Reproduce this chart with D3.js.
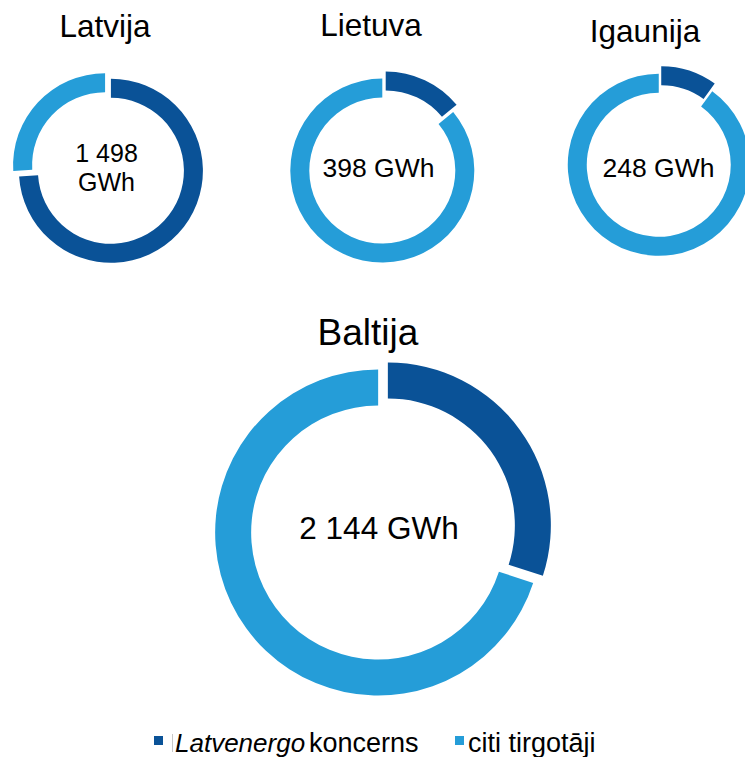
<!DOCTYPE html>
<html>
<head>
<meta charset="utf-8">
<script src="https://cdn.jsdelivr.net/npm/d3@7/dist/d3.min.js"></script>
<style>
  body { margin: 0; background: #fff; }
  svg text { font-family: "Liberation Sans", Arial, sans-serif; fill: #000; }
</style>
</head>
<body>
<div id="chart"></div>
<script>
// share of sales, %
const regions = ['Latvija', 'Lietuva', 'Igaunija', 'Baltija'];
const totals = ['1 498 GWh', '398 GWh', '248 GWh', '2 144 GWh'];
const latvenergo = [74, 14, 10, 30];
const citi = [26, 86, 90, 70];
const seriesNames = ['Latvenergo', 'koncerns', 'citi tirgotāji'];

const colors = ['#0a5297', '#259dd8'];

const width = 745, height = 757;
const svg = d3.select('#chart').append('svg')
    .attr('width', width)
    .attr('height', height);

// layout per donut (label offsets are relative to the donut centre)
const layout = [
    {cx: 108, cy: 168, r: 92, w: 19, explode: 4, titleX: 105, titleY: 37, titleSize: 31.5, labelSize: 25, lx: -1.5, ly: -6},
    {cx: 384, cy: 167, r: 92, w: 19, explode: 4, titleX: 371, titleY: 36, titleSize: 31.5, labelSize: 26.5, lx: -5.5, ly: 10},
    {cx: 660, cy: 161, r: 91, w: 19, explode: 4, titleX: 645, titleY: 42, titleSize: 31.5, labelSize: 26.5, lx: -1.5, ly: 16},
    {cx: 383, cy: 529, r: 163, w: 36, explode: 6, titleX: 368, titleY: 345, titleSize: 37, labelSize: 31.5, lx: -4, ly: 10}
];

const pie = d3.pie().sort(null).value(d => d);

regions.forEach((name, i) => {
    const L = layout[i];
    const g = svg.append('g')
        .attr('transform', `translate(${L.cx}, ${L.cy})`);

    const arc = d3.arc()
        .innerRadius(L.r - L.w)
        .outerRadius(L.r);

    const arcs = pie([latvenergo[i], citi[i]]);

    // exploded slices: each pushed out along its mid angle
    g.selectAll('path')
        .data(arcs)
        .enter()
        .append('path')
        .attr('d', arc)
        .attr('fill', (d, j) => colors[j])
        .attr('transform', d => {
            const mid = (d.startAngle + d.endAngle) / 2;
            const dx = Math.sin(mid) * L.explode;
            const dy = -Math.cos(mid) * L.explode;
            return `translate(${dx}, ${dy})`;
        });

    svg.append('text')
        .attr('x', L.titleX)
        .attr('y', L.titleY)
        .attr('text-anchor', 'middle')
        .style('font-size', L.titleSize + 'px')
        .text(name);

    // centre label, Latvija wraps onto two lines
    if (i === 0) {
        const num = totals[i].replace(' GWh', '');
        g.append('text')
            .attr('x', L.lx)
            .attr('y', L.ly)
            .attr('text-anchor', 'middle')
            .style('font-size', L.labelSize + 'px')
            .text(num);
        g.append('text')
            .attr('x', L.lx)
            .attr('y', L.ly + 28.5)
            .attr('text-anchor', 'middle')
            .style('font-size', L.labelSize + 'px')
            .text('GWh');
    } else {
        g.append('text')
            .attr('x', L.lx)
            .attr('y', L.ly)
            .attr('text-anchor', 'middle')
            .style('font-size', L.labelSize + 'px')
            .text(totals[i]);
    }
});

// legend
const legend = svg.append('g').attr('transform', 'translate(0, 752)');

legend.append('rect')
    .attr('x', 154).attr('y', -16)
    .attr('width', 9).attr('height', 9)
    .attr('fill', colors[0]);
legend.append('line')
    .attr('x1', 172.5).attr('x2', 172.5)
    .attr('y1', -18).attr('y2', 0)
    .attr('stroke', '#c8c8c8').attr('stroke-width', 1);
legend.append('text')
    .attr('x', 175).attr('y', 0)
    .style('font-size', '26px')
    .style('font-style', 'italic')
    .text(seriesNames[0]);
legend.append('text')
    .attr('x', 309).attr('y', 0)
    .style('font-size', '27px')
    .text(seriesNames[1]);

legend.append('rect')
    .attr('x', 455).attr('y', -16)
    .attr('width', 9).attr('height', 9)
    .attr('fill', colors[1]);
legend.append('text')
    .attr('x', 468).attr('y', 0)
    .style('font-size', '27px')
    .text(seriesNames[2]);
</script>
</body>
</html>
